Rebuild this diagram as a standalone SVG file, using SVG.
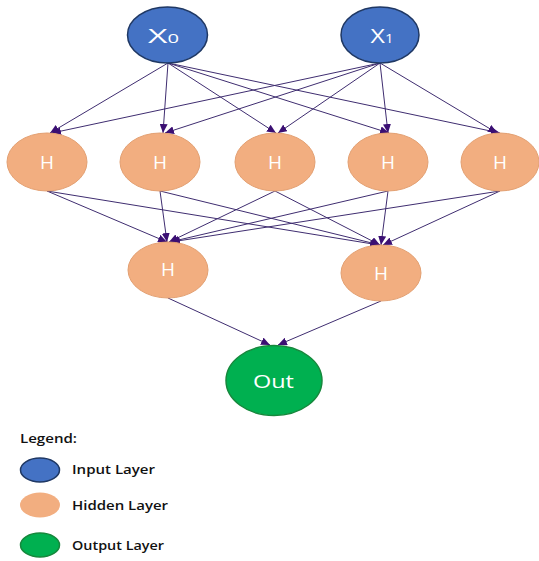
<svg xmlns="http://www.w3.org/2000/svg" width="539" height="561" viewBox="0 0 539 561">
<style>
.in{fill:#4472C4;stroke:#1F3864;stroke-width:1.5}
.hid{fill:#F2AE80;stroke:#E3A072;stroke-width:1}
.out{fill:#00B050;stroke:#16883C;stroke-width:1.5}
.lbl{font-family:"Open Sans","Liberation Sans",sans-serif;fill:#FFFFFF;text-anchor:middle}
.h{font-size:19px}
.leg{font-family:"Open Sans","Liberation Sans",sans-serif;fill:#111111;font-size:13px;font-weight:600}
.c{stroke:#3F2D70;stroke-width:1;fill:none;marker-end:url(#ah)}
</style>
<defs>
<marker id="ah" markerUnits="userSpaceOnUse" markerWidth="9" markerHeight="8" refX="9" refY="4" orient="auto">
<path d="M0,0 L9,4 L0,8 Z" fill="#3B0F73"/>
</marker>
</defs>
<rect width="539" height="561" fill="#FFFFFF"/>
<g id="connectors">
<line class="c" x1="168" y1="63" x2="50" y2="133"/>
<line class="c" x1="168" y1="63" x2="163" y2="133"/>
<line class="c" x1="168" y1="63" x2="276" y2="133"/>
<line class="c" x1="168" y1="63" x2="389" y2="133"/>
<line class="c" x1="168" y1="63" x2="500" y2="133"/>
<line class="c" x1="380" y1="63" x2="52" y2="133"/>
<line class="c" x1="380" y1="63" x2="165" y2="133"/>
<line class="c" x1="380" y1="63" x2="278" y2="133"/>
<line class="c" x1="380" y1="63" x2="388" y2="133"/>
<line class="c" x1="380" y1="63" x2="497" y2="133"/>
<line class="c" x1="47" y1="191" x2="167" y2="242"/>
<line class="c" x1="160" y1="191" x2="167" y2="242"/>
<line class="c" x1="275" y1="191" x2="169" y2="242"/>
<line class="c" x1="388" y1="191" x2="170" y2="242"/>
<line class="c" x1="500" y1="191" x2="171" y2="242"/>
<line class="c" x1="47" y1="191" x2="379" y2="245"/>
<line class="c" x1="160" y1="191" x2="380" y2="245"/>
<line class="c" x1="275" y1="191" x2="380" y2="245"/>
<line class="c" x1="388" y1="191" x2="381" y2="245"/>
<line class="c" x1="500" y1="191" x2="383" y2="245"/>
<line class="c" x1="168" y1="298" x2="270" y2="345"/>
<line class="c" x1="381" y1="301" x2="278" y2="345"/>
</g>
<g id="x0">
<ellipse class="in" cx="167.5" cy="35" rx="40" ry="28"/>
<text class="lbl" x="163.5" y="43" font-size="20" textLength="31" lengthAdjust="spacingAndGlyphs">X<tspan font-size="12">0</tspan></text>
</g>
<g id="x1">
<ellipse class="in" cx="380" cy="35" rx="39" ry="28"/>
<text class="lbl" x="382" y="43" font-size="20" textLength="23" lengthAdjust="spacingAndGlyphs">X<tspan font-size="12">1</tspan></text>
</g>
<g id="h1">
<ellipse class="hid" cx="47" cy="162" rx="40" ry="29"/>
<text class="lbl h" x="47" y="169">H</text>
</g>
<g id="h2">
<ellipse class="hid" cx="160" cy="162" rx="40" ry="29"/>
<text class="lbl h" x="160" y="169">H</text>
</g>
<g id="h3">
<ellipse class="hid" cx="275" cy="162" rx="40" ry="29"/>
<text class="lbl h" x="275" y="169">H</text>
</g>
<g id="h4">
<ellipse class="hid" cx="388" cy="162" rx="40" ry="29"/>
<text class="lbl h" x="388" y="169">H</text>
</g>
<g id="h5">
<ellipse class="hid" cx="500" cy="162" rx="39" ry="29"/>
<text class="lbl h" x="500" y="169">H</text>
</g>
<g id="h6">
<ellipse class="hid" cx="168" cy="270" rx="40" ry="28"/>
<text class="lbl h" x="168" y="276">H</text>
</g>
<g id="h7">
<ellipse class="hid" cx="381" cy="273" rx="40" ry="28"/>
<text class="lbl h" x="381" y="280">H</text>
</g>
<g id="out">
<ellipse class="out" cx="274" cy="380.5" rx="48" ry="35"/>
<text class="lbl" x="273.5" y="388" font-size="18" textLength="41" lengthAdjust="spacingAndGlyphs">Out</text>
</g>
<g id="legend">
<text class="leg" x="20" y="443" textLength="57" lengthAdjust="spacingAndGlyphs">Legend:</text>
<ellipse class="in" cx="40" cy="470" rx="19.5" ry="12"/>
<text class="leg" x="72" y="474" textLength="83" lengthAdjust="spacingAndGlyphs">Input Layer</text>
<ellipse cx="40" cy="505" rx="20" ry="12.5" fill="#F2AE80"/>
<text class="leg" x="72" y="510" textLength="96" lengthAdjust="spacingAndGlyphs">Hidden Layer</text>
<ellipse class="out" cx="40" cy="545" rx="19.5" ry="12"/>
<text class="leg" x="72" y="550" textLength="92" lengthAdjust="spacingAndGlyphs">Output Layer</text>
</g>
</svg>
